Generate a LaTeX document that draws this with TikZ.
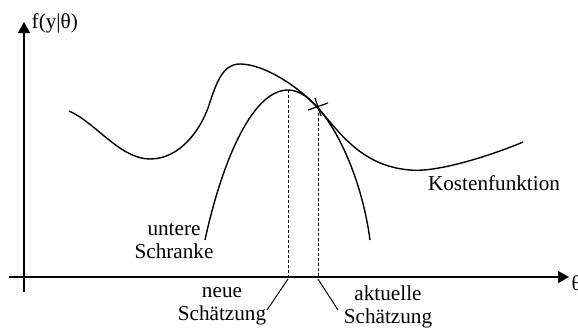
\documentclass[tikz,border=0pt]{standalone}
\usepackage{fontspec}
\setmainfont{Liberation Serif}
\usetikzlibrary{arrows.meta}
\begin{document}
\begin{tikzpicture}[x=0.5pt,y=-0.5pt, line width=0.7pt,
  lbl/.style={font=\fontsize{10.6}{11.5}\selectfont, inner sep=0pt, align=center},
  axis/.style={line width=0.75pt,-{Triangle[length=5.5pt,width=6pt]}},
  curve/.style={line width=0.7pt},
  guide/.style={dash pattern=on 1.5pt off 1pt, line width=0.5pt},
  leader/.style={line width=0.5pt}]
\useasboundingbox (0,0) rectangle (578,327);
% axes
\coordinate (ybot) at (24,292);
\coordinate (ytop) at (24,22);
\coordinate (xleft) at (9,277);
\coordinate (xright) at (569,277);
\draw[axis] (ybot) -- (ytop);
\draw[axis] (xleft) -- (xright);
\node[lbl, anchor=west] (ylab) at (31,23) {f(y|θ)};
\node[lbl, anchor=west] (xlab) at (571,283) {θ};
% cost function
\draw[curve] (69,111) .. controls (95,122) and (120,159) .. (150,159)
  .. controls (180,159) and (200,130) .. (208,108)
  .. controls (216,84) and (222,64) .. (240,64)
  .. controls (265,64) and (300,88) .. (318,108)
  .. controls (338,130) and (360,166) .. (410,170)
  .. controls (440,173) and (500,152) .. (523,142);
% lower bound
\draw[curve] (205,240) .. controls (220,170) and (250,90) .. (288,90)
  .. controls (300,90) and (310,99) .. (318,108)
  .. controls (338,130) and (362,180) .. (370,240);
% guide lines
\coordinate (newtop) at (288,90);
\coordinate (newbot) at (288,277);
\coordinate (curtop) at (318,108);
\coordinate (curbot) at (318,277);
\draw[guide] (newtop) -- (newbot);
\draw[guide] (curtop) -- (curbot);
% cross
\draw[leader, line width=0.6pt] (308,110) -- (328,103);
\draw[leader, line width=0.6pt] (315,98) -- (321,116);
% labels
\node[lbl] (neu) at (222,306.5) {neue\\Schätzung};
\node[lbl] (akt) at (388,306.5) {aktuelle\\Schätzung};
\node[lbl] (unt) at (174,241) {untere\\Schranke};
\node[lbl] (kost) at (494,183) {Kostenfunktion};
\draw[leader] (newbot) ++(0,2) -- (267,310);
\draw[leader] (curbot) ++(0,2) -- (338,310);
\end{tikzpicture}
\end{document}
